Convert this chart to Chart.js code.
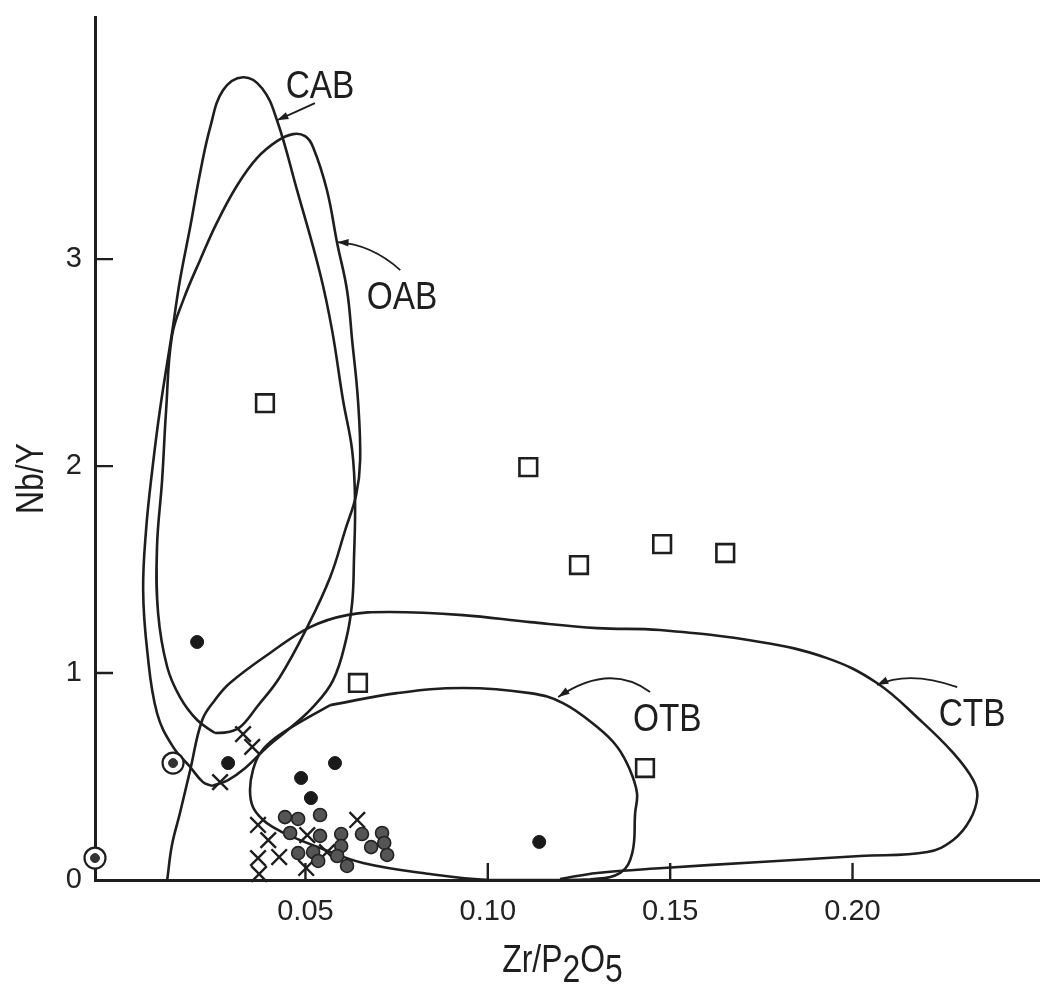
<!DOCTYPE html>
<html>
<head>
<meta charset="utf-8">
<title>Nb/Y x Zr/P2O5</title>
<script src="https://cdn.jsdelivr.net/npm/chart.js@4.4.1/dist/chart.umd.min.js"></script>
<style>
  html, body { margin: 0; padding: 0; background: #fff; overflow: hidden; }
  #wrap { width: 1040px; height: 984px; position: relative; }
</style>
</head>
<body>
<div id="wrap"><canvas id="grafico"></canvas></div>
<script>
// eixos
const xTicks = [0.05, 0.10, 0.15, 0.20];
const xTickLabels = ["0.05", "0.10", "0.15", "0.20"];
const yTicks = [0, 1, 2, 3];
const yTickLabels = ["0", "1", "2", "3"];
const xTitle = ["Zr/P", "2", "O", "5"]; // pedaços impares vao como subscrito
const yTitle = "Nb/Y";

// amostras [Zr/P2O5, Nb/Y]
const squares = [[0.0389, 2.304], [0.1111, 1.995], [0.1250, 1.522], [0.1478, 1.623], [0.1651, 1.580], [0.0644, 0.952], [0.1431, 0.541]];
const dots = [[0.0203, 1.150], [0.0288, 0.565], [0.0488, 0.493], [0.0581, 0.565], [0.0515, 0.396], [0.1141, 0.184]];
const circled = [[-0.0077, 0.106], [0.0137, 0.565]];
const grayDots = [
  [0.0444, 0.304], [0.0480, 0.295], [0.0540, 0.314], [0.0458, 0.227], [0.0540, 0.213], [0.0598, 0.222],
  [0.0598, 0.164], [0.0480, 0.130], [0.0521, 0.135], [0.0535, 0.092], [0.0587, 0.116], [0.0614, 0.068],
  [0.0655, 0.222], [0.0680, 0.159], [0.0710, 0.227], [0.0716, 0.179], [0.0724, 0.121]
];
const crosses = [
  [0.0266, 0.473], [0.0329, 0.705], [0.0354, 0.643], [0.0370, 0.266], [0.0398, 0.193], [0.0370, 0.106],
  [0.0428, 0.111], [0.0373, 0.029], [0.0505, 0.217], [0.0502, 0.058], [0.0559, 0.135], [0.0642, 0.290]
];

// campos (contornos)
const cabOutline = [
  [0.0244, 0.454], [0.0219, 0.473], [0.0184, 0.546], [0.0137, 0.643], [0.0093, 0.807], [0.0066, 1.111],
  [0.0055, 1.401], [0.0063, 1.691], [0.0080, 1.981], [0.0101, 2.271], [0.0134, 2.643], [0.0156, 2.899],
  [0.0184, 3.155], [0.0211, 3.415], [0.0239, 3.638], [0.0274, 3.816], [0.0329, 3.879], [0.0381, 3.826],
  [0.0422, 3.671], [0.0477, 3.333], [0.0540, 2.932], [0.0573, 2.657], [0.0603, 2.319], [0.0628, 2.077],
  [0.0636, 1.836], [0.0633, 1.546], [0.0628, 1.338], [0.0611, 1.159], [0.0576, 0.966], [0.0521, 0.836],
  [0.0458, 0.734], [0.0395, 0.643], [0.0335, 0.541], [0.0288, 0.483], [0.0244, 0.454]
];
const oabOutline = [
  [0.0252, 0.710], [0.0203, 0.773], [0.0156, 0.884], [0.0121, 1.029], [0.0096, 1.290], [0.0093, 1.609],
  [0.0107, 1.932], [0.0118, 2.271], [0.0134, 2.628], [0.0165, 2.802], [0.0211, 2.995], [0.0258, 3.179],
  [0.0313, 3.357], [0.0367, 3.488], [0.0422, 3.570], [0.0466, 3.604], [0.0499, 3.594], [0.0521, 3.541],
  [0.0559, 3.333], [0.0587, 3.077], [0.0614, 2.850], [0.0628, 2.609], [0.0644, 2.319], [0.0650, 2.029],
  [0.0639, 1.860], [0.0609, 1.691], [0.0568, 1.464], [0.0505, 1.222], [0.0430, 0.981], [0.0367, 0.836],
  [0.0321, 0.739], [0.0288, 0.715], [0.0252, 0.710]
];
const ctbOutline = [
  [0.0121, 0.000], [0.0134, 0.169], [0.0156, 0.324], [0.0184, 0.531], [0.0217, 0.773], [0.0252, 0.870],
  [0.0293, 0.952], [0.0403, 1.097], [0.0513, 1.222], [0.0614, 1.280], [0.0732, 1.295], [0.0932, 1.280],
  [0.1116, 1.246], [0.1300, 1.217], [0.1472, 1.208], [0.1747, 1.150], [0.1930, 1.072], [0.2067, 0.952],
  [0.2185, 0.773], [0.2276, 0.614], [0.2331, 0.483], [0.2342, 0.401], [0.2322, 0.290], [0.2276, 0.193],
  [0.2205, 0.135], [0.2021, 0.116], [0.1747, 0.087], [0.1481, 0.058], [0.1300, 0.034], [0.1198, 0.005]
];
const otbOutline = [
  [0.0568, 0.845], [0.0751, 0.903], [0.0932, 0.928], [0.1116, 0.903], [0.1206, 0.855], [0.1300, 0.739],
  [0.1355, 0.643], [0.1390, 0.531], [0.1409, 0.420], [0.1404, 0.324], [0.1396, 0.130], [0.1363, 0.034],
  [0.1281, 0.003], [0.1198, 0.000], [0.1006, 0.000], [0.0842, 0.029], [0.0658, 0.082], [0.0540, 0.155],
  [0.0458, 0.213], [0.0411, 0.256], [0.0384, 0.290], [0.0356, 0.353], [0.0348, 0.435], [0.0356, 0.531],
  [0.0376, 0.614], [0.0417, 0.686], [0.0485, 0.763], [0.0568, 0.845]
];

// rotulos dos campos, com seta (from -> ctrl -> to)
const fieldLabels = [
  { text: "CAB", at: [0.0540, 3.845], from: [0.0526, 3.754], ctrl: [0.0474, 3.712], to: [0.0422, 3.671] },
  { text: "OAB", at: [0.0765, 2.826], from: [0.0760, 2.947], ctrl: [0.0681, 3.072], to: [0.0587, 3.082] },
  { text: "OTB", at: [0.1492, 0.787], from: [0.1445, 0.908], ctrl: [0.1335, 1.053], to: [0.1193, 0.884] },
  { text: "CTB", at: [0.2328, 0.812], from: [0.2287, 0.932], ctrl: [0.2155, 1.014], to: [0.2067, 0.942] }
];

const PEN = "#1e1e1e";
const FONT = "'Liberation Sans', Arial, sans-serif";

const pts = arr => arr.map(([x, y]) => ({ x, y }));

function contorno(arr) {
  return {
    data: pts(arr), showLine: true, tension: 0.4, borderColor: PEN, borderWidth: 2.6,
    pointRadius: 0, fill: false, order: 5
  };
}

function marcador(arr, extra) {
  return Object.assign({ data: pts(arr), showLine: false, clip: false, order: 1 }, extra);
}

function texto(ctx, str, x, y, size, sx, align) {
  ctx.save();
  ctx.translate(x, y);
  ctx.scale(sx, 1);
  ctx.font = size + "px " + FONT;
  ctx.textAlign = align || "center";
  ctx.textBaseline = "alphabetic";
  ctx.fillText(str, 0, 0);
  ctx.restore();
}

// tira o espaco extra que o Chart.js reserva pros rotulos das pontas
function semPadding(s) {
  s.paddingTop = 0; s.paddingBottom = 0; s.paddingLeft = 0; s.paddingRight = 0;
}

// ticks para dentro, titulos e rotulos dos campos
const desenhoExtra = {
  id: "desenhoExtra",
  afterDraw(chart) {
    const ctx = chart.ctx;
    const xs = chart.scales.x, ys = chart.scales.y;
    const area = chart.chartArea;
    ctx.save();
    ctx.strokeStyle = PEN;
    ctx.fillStyle = PEN;
    ctx.lineWidth = 2.4;
    ctx.beginPath();
    yTicks.forEach(v => {
      if (v === 0) return;
      const py = ys.getPixelForValue(v);
      ctx.moveTo(area.left, py);
      ctx.lineTo(area.left + 18, py);
    });
    xTicks.forEach(v => {
      const px = xs.getPixelForValue(v);
      ctx.moveTo(px, area.bottom);
      ctx.lineTo(px, area.bottom - 17);
    });
    ctx.stroke();

    // titulo x com subscritos
    const sx = 0.84, size = 38;
    ctx.font = size + "px " + FONT;
    let total = 0;
    xTitle.forEach(p => { total += ctx.measureText(p).width * sx; });
    let cx = (area.left + area.right) / 2 - 5 - total / 2;
    const base = area.bottom + 92;
    xTitle.forEach((p, i) => {
      texto(ctx, p, cx, base + (i % 2 ? 10 : 0), size, sx, "left");
      ctx.font = size + "px " + FONT;
      cx += ctx.measureText(p).width * sx;
    });

    // titulo y
    ctx.save();
    ctx.translate(area.left - 52, (area.top + area.bottom) / 2 + 30);
    ctx.rotate(-Math.PI / 2);
    texto(ctx, yTitle, 0, 0, size, 0.84, "center");
    ctx.restore();

    // rotulos CAB, OAB, OTB, CTB
    ctx.lineWidth = 1.8;
    fieldLabels.forEach(l => {
      const p = v => [xs.getPixelForValue(v[0]), ys.getPixelForValue(v[1])];
      const [tx, ty] = p(l.at);
      texto(ctx, l.text, tx, ty + 14, 38, 0.88, "center");
      const a = p(l.from), c = p(l.ctrl), b = p(l.to);
      ctx.beginPath();
      ctx.moveTo(a[0], a[1]);
      ctx.quadraticCurveTo(c[0], c[1], b[0], b[1]);
      ctx.stroke();
      const ang = Math.atan2(b[1] - c[1], b[0] - c[0]);
      ctx.beginPath();
      ctx.moveTo(b[0], b[1]);
      ctx.lineTo(b[0] - 12 * Math.cos(ang - 0.32), b[1] - 12 * Math.sin(ang - 0.32));
      ctx.lineTo(b[0] - 12 * Math.cos(ang + 0.32), b[1] - 12 * Math.sin(ang + 0.32));
      ctx.closePath();
      ctx.fill();
    });
    ctx.restore();
  }
};

const ctx = document.getElementById("grafico").getContext("2d");
new Chart(ctx, {
  type: "scatter",
  data: {
    datasets: [
      marcador(squares, { pointStyle: "rect", pointRadius: 12.5, backgroundColor: "#fff", borderColor: PEN, borderWidth: 2.6 }),
      marcador(dots, { pointStyle: "circle", pointRadius: 6.5, backgroundColor: "#1a1a1a", borderColor: "#1a1a1a", borderWidth: 1 }),
      marcador(grayDots, { pointStyle: "circle", pointRadius: 6.5, backgroundColor: "#555", borderColor: "#222", borderWidth: 1.6 }),
      marcador(circled, { pointStyle: "circle", pointRadius: 4.5, backgroundColor: "#333", borderColor: "#333", borderWidth: 1 }),
      marcador(circled, { pointStyle: "circle", pointRadius: 10.5, backgroundColor: "#fff", borderColor: PEN, borderWidth: 2.2, order: 2 }),
      marcador(crosses, { pointStyle: "crossRot", pointRadius: 11, borderColor: PEN, borderWidth: 2.4 }),
      contorno(cabOutline),
      contorno(oabOutline),
      contorno(ctbOutline),
      contorno(otbOutline)
    ]
  },
  options: {
    responsive: true,
    maintainAspectRatio: false,
    animation: false,
    events: [],
    layout: { autoPadding: false, padding: { top: 17, right: 0, left: 0, bottom: 0 } },
    plugins: { legend: { display: false }, tooltip: { enabled: false } },
    scales: {
      x: {
        type: "linear", min: -0.0077, max: 0.2514,
        grid: { display: false, drawTicks: false },
        border: { display: true, color: PEN, width: 3 },
        ticks: {
          padding: 15, color: "#222", font: { size: 29, family: FONT },
          callback: (v, i) => xTickLabels[i]
        },
        afterBuildTicks: s => { s.ticks = xTicks.map(v => ({ value: v })); },
        afterFit: s => { s.height = 104; semPadding(s); }
      },
      y: {
        type: "linear", min: 0, max: 4.17,
        grid: { display: false, drawTicks: false },
        border: { display: true, color: PEN, width: 3 },
        ticks: {
          padding: 13, color: "#222", font: { size: 29, family: FONT },
          callback: (v, i) => yTickLabels[i]
        },
        afterBuildTicks: s => { s.ticks = yTicks.map(v => ({ value: v })); },
        afterFit: s => { s.width = 95; semPadding(s); }
      }
    }
  },
  plugins: [desenhoExtra]
});
</script>
</body>
</html>
